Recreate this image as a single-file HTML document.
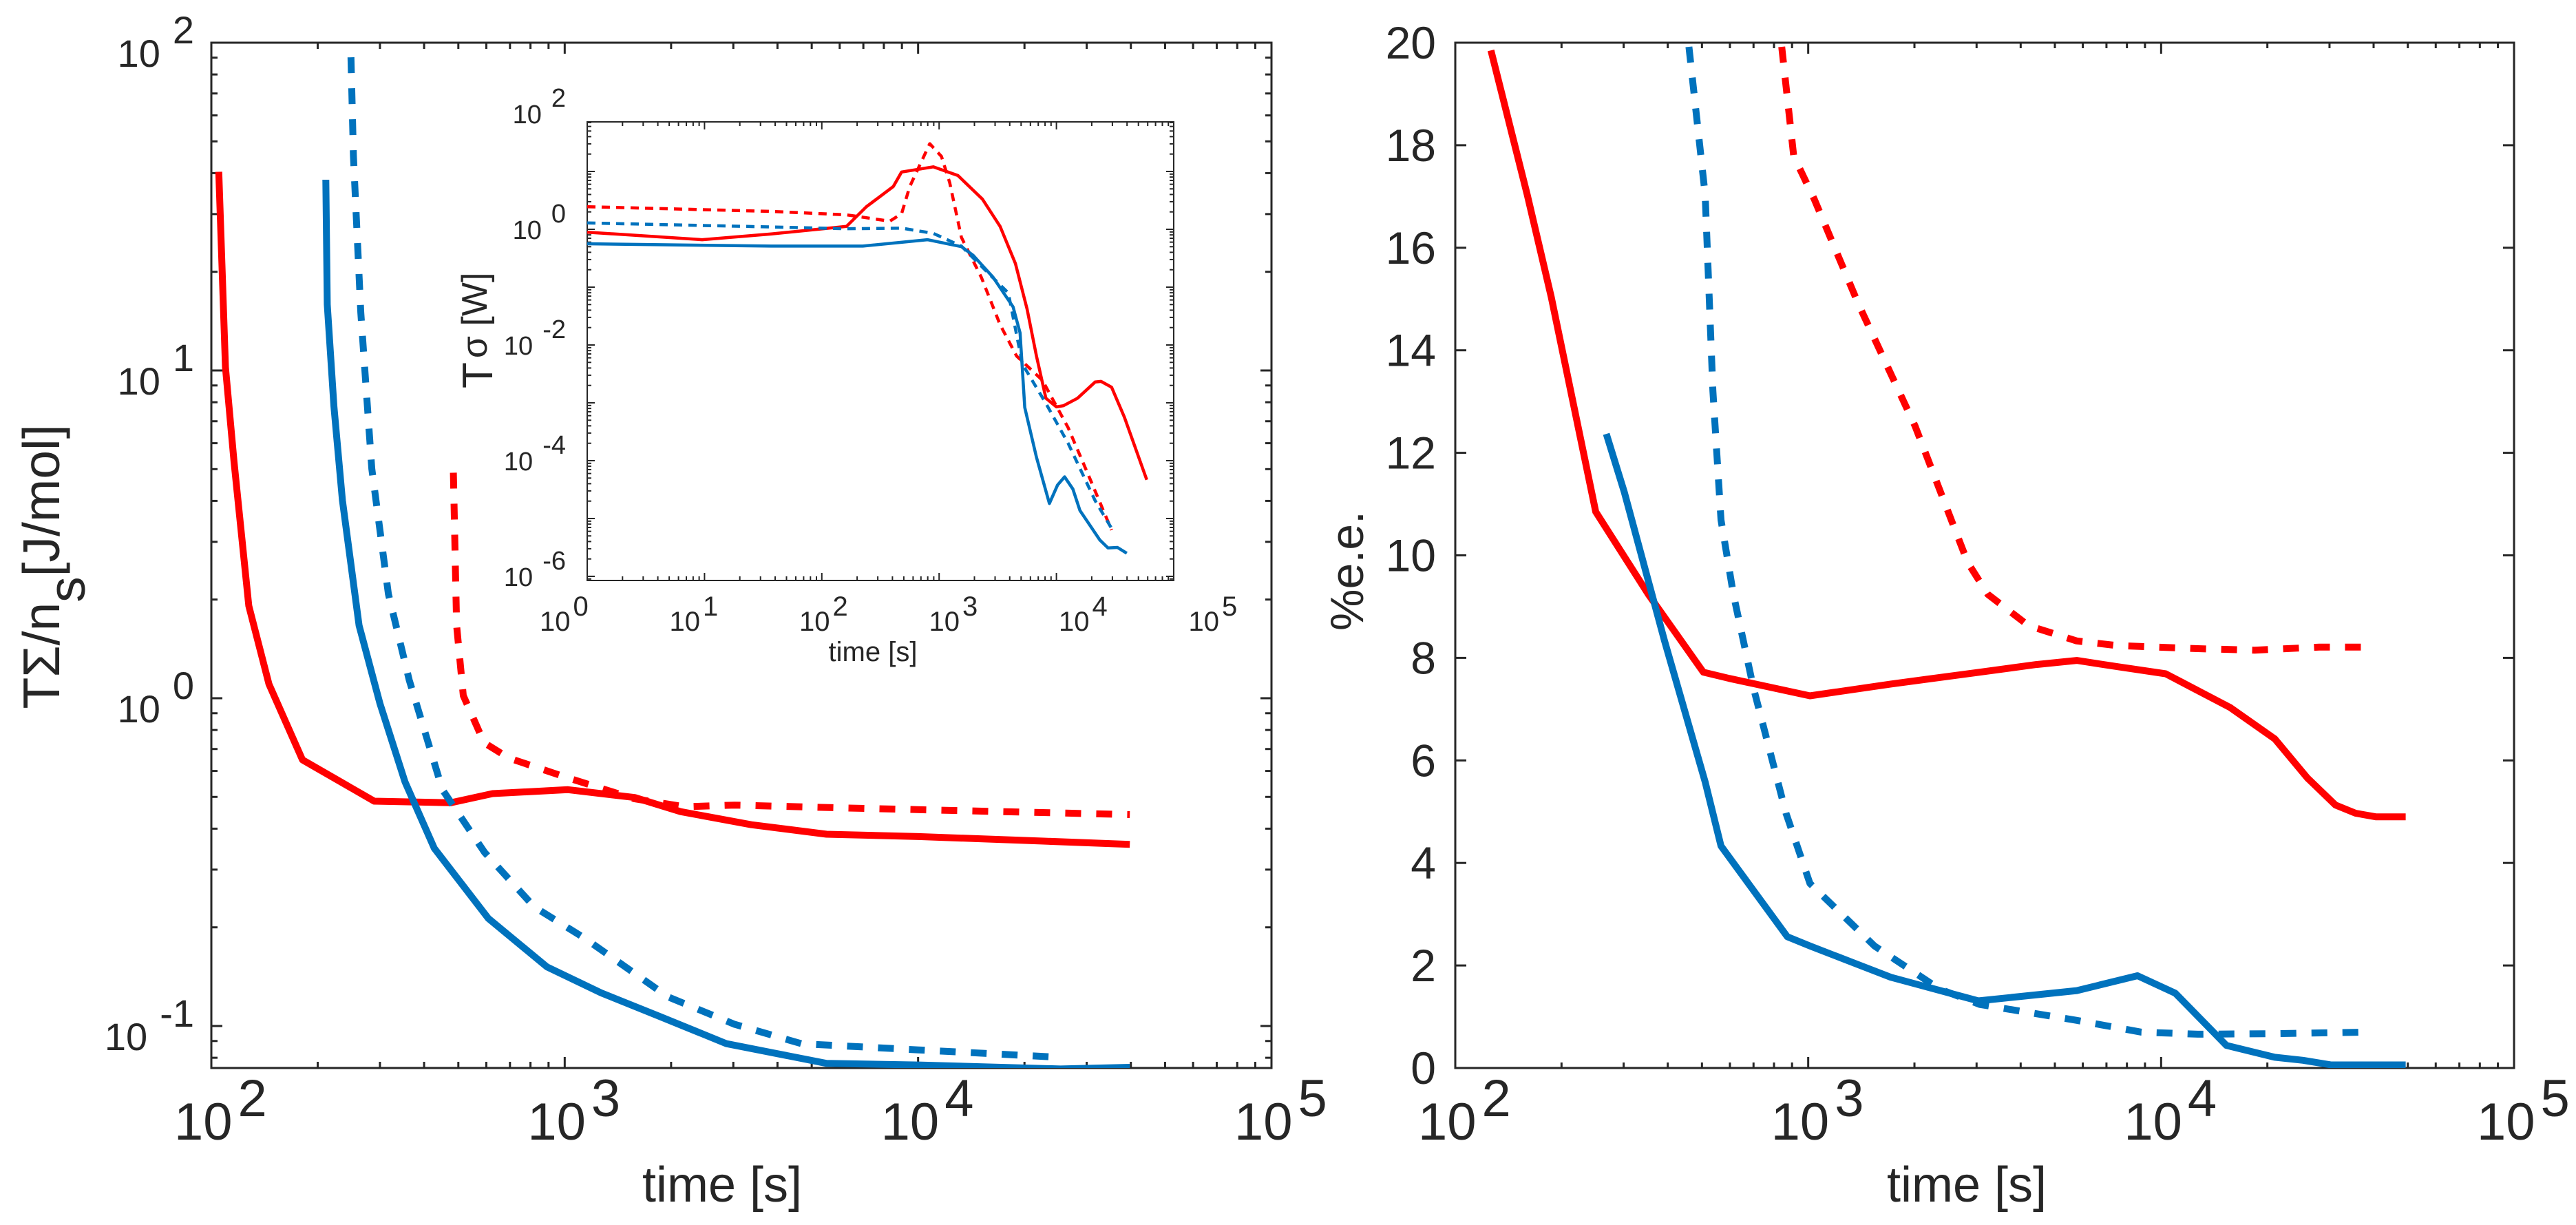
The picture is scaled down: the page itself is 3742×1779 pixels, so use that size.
<!DOCTYPE html>
<html><head><meta charset="utf-8"><style>
html,body{margin:0;padding:0;background:#fff;}
svg{display:block;font-family:"Liberation Sans",Arial,sans-serif;}
</style></head><body>
<svg id="chart" width="3742" height="1779" viewBox="0 0 3742 1779" xmlns="http://www.w3.org/2000/svg">
<defs>
<clipPath id="clipL"><rect x="307" y="62" width="1540" height="1489"/></clipPath>
<clipPath id="clipR"><rect x="2114" y="62" width="1538" height="1489"/></clipPath>
<clipPath id="clipI"><rect x="853" y="177" width="852" height="666"/></clipPath>
</defs>
<g id="left"></g>
<g id="inset"></g>
<g id="right"></g>
</svg>
<script>
// ---- Left panel data (log10 time, log10 value) ----
const leftRedSolidLogT = [2.021,2.040,2.064,2.106,2.163,2.258,2.461,2.678,2.796,3.009,3.198,3.328,3.528,3.741,4.001,4.355,4.599];
const leftRedSolidLogV = [1.606,1.010,0.723,0.282,0.043,-0.188,-0.314,-0.319,-0.291,-0.279,-0.303,-0.346,-0.386,-0.415,-0.422,-0.436,-0.446];
const leftRedDashLogT = [2.685,2.694,2.713,2.772,2.843,3.009,3.198,3.339,3.481,3.765,4.599];
const leftRedDashLogV = [0.688,0.222,0.008,-0.136,-0.183,-0.243,-0.307,-0.331,-0.326,-0.334,-0.355];
const leftBlueSolidLogT = [2.324,2.328,2.347,2.371,2.418,2.477,2.548,2.631,2.784,2.950,3.103,3.269,3.458,3.741,4.001,4.403,4.599];
const leftBlueSolidLogV = [1.582,1.201,0.890,0.604,0.222,-0.016,-0.255,-0.458,-0.672,-0.820,-0.899,-0.971,-1.054,-1.114,-1.119,-1.131,-1.126];
const leftBlueDashLogT = [2.393,2.402,2.423,2.454,2.501,2.560,2.654,2.773,2.914,3.056,3.292,3.481,3.670,4.001,4.391];
const leftBlueDashLogV = [2.05,1.654,1.177,0.700,0.318,0.055,-0.279,-0.470,-0.637,-0.732,-0.911,-0.995,-1.054,-1.073,-1.095];
const leftXTickExp = [2,3,4,5];
const leftYTickExp = [2,1,0,-1];

// ---- Inset data (log10 time, log10 value) ----
const insRedSolidLogT = [0,0.98,1.57,2.21,2.38,2.61,2.68,2.95,3.16,3.37,3.52,3.65,3.75,3.83,3.91,4.00,4.06,4.18,4.33,4.38,4.47,4.58,4.77];
const insRedSolidLogV = [-0.05,-0.18,-0.08,0.05,0.39,0.74,0.99,1.08,0.93,0.52,0.05,-0.59,-1.38,-2.19,-2.92,-3.07,-3.05,-2.92,-2.64,-2.63,-2.73,-3.25,-4.33];
const insRedDashLogT = [0,1.57,2.21,2.58,2.68,2.75,2.92,3.02,3.09,3.19,3.36,3.52,3.66,3.88,4.10,4.30,4.47];
const insRedDashLogV = [0.39,0.31,0.25,0.14,0.27,0.74,1.48,1.26,0.81,-0.14,-0.83,-1.65,-2.19,-2.61,-3.43,-4.38,-5.20];
const insBlueSolidLogT = [0,1.57,2.35,2.90,3.19,3.29,3.46,3.63,3.69,3.73,3.83,3.94,4.01,4.07,4.14,4.20,4.37,4.44,4.52,4.60];
const insBlueSolidLogV = [-0.25,-0.29,-0.29,-0.18,-0.30,-0.45,-0.83,-1.34,-1.79,-3.08,-3.94,-4.74,-4.42,-4.28,-4.49,-4.86,-5.37,-5.51,-5.50,-5.60];
const insBlueDashLogT = [0,1.57,2.21,2.68,2.95,3.19,3.42,3.59,3.71,3.91,4.10,4.33,4.47];
const insBlueDashLogV = [0.11,0.04,0.01,0.02,-0.07,-0.29,-0.76,-1.10,-2.33,-3.01,-3.70,-4.69,-5.17];
const insXTickExp = [0,1,2,3,4,5];
const insYTickExp = [2,0,-2,-4,-6];

// ---- Right panel data (log10 time, %e.e.) ----
const rightRedSolidLogT = [2.101,2.204,2.272,2.398,2.547,2.703,2.776,3.005,3.234,3.486,3.646,3.761,3.875,4.013,4.196,4.322,4.414,4.494,4.551,4.608,4.693];
const rightRedSolidV = [19.85,17.03,15.04,10.85,9.24,7.72,7.60,7.26,7.49,7.72,7.87,7.95,7.83,7.69,7.03,6.42,5.66,5.13,4.97,4.90,4.90];
const rightRedDashLogT = [2.925,2.959,3.017,3.143,3.303,3.452,3.509,3.624,3.761,3.875,4.104,4.265,4.448,4.604];
const rightRedDashV = [19.92,17.79,16.95,14.89,12.52,9.86,9.24,8.63,8.33,8.24,8.18,8.15,8.21,8.21];
const rightBlueSolidLogT = [2.428,2.479,2.593,2.708,2.753,2.941,3.005,3.234,3.482,3.761,3.933,4.040,4.127,4.185,4.322,4.402,4.482,4.562,4.693];
const rightBlueSolidV = [12.37,11.23,8.33,5.58,4.33,2.56,2.38,1.77,1.31,1.51,1.80,1.46,0.85,0.44,0.21,0.15,0.06,0.06,0.06];
const rightBlueDashLogT = [2.662,2.708,2.730,2.753,2.788,2.845,2.937,3.005,3.188,3.372,3.486,3.761,3.944,4.104,4.333,4.585];
const rightBlueDashV = [19.92,17.03,13.21,10.69,9.24,7.41,4.97,3.60,2.38,1.54,1.24,0.93,0.70,0.66,0.67,0.70];
const rightXTickExp = [2,3,4,5];
const rightYTicks = [0,2,4,6,8,10,12,14,16,18,20];

const NS = "http://www.w3.org/2000/svg";
const RED = "#ff0000", BLUE = "#0072bd", INK = "#262626";
function mk(tag, attrs, parent){ const e=document.createElementNS(NS,tag); for(const k in attrs) e.setAttribute(k,attrs[k]); parent.appendChild(e); return e; }

// axes
const L = {x0:307,x1:1847,y0:62,y1:1551};
const lx = lt => L.x0 + (lt-2)*(L.x1-L.x0)/3;
const ly = lv => L.y0 + (2-lv)*476;
const I = {x0:853,x1:1705,y0:177,y1:843};
const ix = lt => I.x0 + lt*170.4;
const iy = lv => 333 - lv*84;
const R = {x0:2114,x1:3652,y0:62,y1:1551};
const rx = lt => R.x0 + (lt-2)*(R.x1-R.x0)/3;
const ry = v => R.y1 - v*(R.y1-R.y0)/20;

function frame(g, A, sw){ const r=mk('rect',{x:A.x0,y:A.y0,width:A.x1-A.x0,height:A.y1-A.y0,fill:'none',stroke:INK,'stroke-width':sw},g);
    }
function tick(g,x1,y1,x2,y2,sw){ mk('line',{x1:x1,y1:y1,x2:x2,y2:y2,stroke:INK,'stroke-width':sw},g); }
function series(g, xs, ys, fx, fy, color, w, dash, clip, name){
  const pts = xs.map((t,i)=>fx(t).toFixed(1)+','+fy(ys[i]).toFixed(1)).join(' ');
  const p = mk('polyline',{points:pts,fill:'none',stroke:color,'stroke-width':w,'stroke-linejoin':'round','clip-path':'url(#'+clip+')'},g);
  if(dash) p.setAttribute('stroke-dasharray',dash);
  
  
}
function powLabel(g, x, y, base, exp, fs, supFs, dx, dy, anchor, name){
  const t = mk('text',{x:x,y:y,'font-size':fs,fill:INK,'text-anchor':anchor},g);
  t.appendChild(document.createTextNode(base));
  const s = mk('tspan',{dx:dx,dy:dy,'font-size':supFs},t);
  s.textContent = exp;
  
  
}

// ---------- LEFT ----------
const gL = document.getElementById('left');
frame(gL, L, 3);
for(let d=2; d<5; d++){
  for(let m=2;m<=9;m++){ const x=lx(d+Math.log10(m)); tick(gL,x,L.y1,x,L.y1-9,3); tick(gL,x,L.y0,x,L.y0+9,3); }
}
leftXTickExp.forEach(e=>{ const x=lx(e); tick(gL,x,L.y1,x,L.y1-16,3); tick(gL,x,L.y0,x,L.y0+16,3);
  powLabel(gL, x-54, 1655, '10', String(e), 76, 76, 8, -34, 'start', 'x-tick-label'); });
for(let d=-2; d<2; d++){
  for(let m=2;m<=9;m++){ const lv=d+Math.log10(m); if(lv< -1.128) continue; const y=ly(lv); tick(gL,L.x0,y,L.x0+9,y,3); tick(gL,L.x1,y,L.x1-9,y,3); }
}
leftYTickExp.forEach(e=>{ const y=ly(e); tick(gL,L.x0,y,L.x0+16,y,3); tick(gL,L.x1,y,L.x1-16,y,3);
  powLabel(gL, 282, y+35, '10', String(e), 56, 56, 18, -34, 'end', 'y-tick-label'); });
series(gL, leftRedSolidLogT, leftRedSolidLogV, lx, ly, RED, 10, null, 'clipL', 'red-solid-line');
series(gL, leftRedDashLogT, leftRedDashLogV, lx, ly, RED, 10, '23 22', 'clipL', 'red-dashed-line');
series(gL, leftBlueSolidLogT, leftBlueSolidLogV, lx, ly, BLUE, 10, null, 'clipL', 'blue-solid-line');
series(gL, leftBlueDashLogT, leftBlueDashLogV, lx, ly, BLUE, 10, '23 22', 'clipL', 'blue-dashed-line');
(function(){
  const t = mk('text',{x:1049,y:1745,'font-size':72,fill:INK,'text-anchor':'middle'},gL); t.textContent='time [s]';
   
  const yt = mk('text',{x:0,y:0,'font-size':75,fill:INK,'text-anchor':'middle',transform:'translate(86,823) rotate(-90)'},gL);
  yt.appendChild(document.createTextNode('TΣ/n'));
  const s = mk('tspan',{dy:37},yt); s.textContent='s';
  const r = mk('tspan',{dy:-37},yt); r.textContent='[J/mol]';
   
})();

// ---------- INSET ----------
const gI = document.getElementById('inset');
mk('rect',{x:I.x0,y:I.y0,width:I.x1-I.x0,height:I.y1-I.y0,fill:'#fff'},gI);
frame(gI, I, 2);
for(let d=0; d<5; d++){
  for(let m=2;m<=9;m++){ const x=ix(d+Math.log10(m)); tick(gI,x,I.y1,x,I.y1-6,2); tick(gI,x,I.y0,x,I.y0+6,2); }
  const x=ix(d); tick(gI,x,I.y1,x,I.y1-11,2); tick(gI,x,I.y0,x,I.y0+11,2);
}
for(let d=-7; d<2; d++){
  for(let m=1;m<=9;m++){ const y=iy(d+Math.log10(m)); if(y<I.y0||y>I.y1) continue; const l=m===1?11:6; tick(gI,I.x0,y,I.x0+l,y,2); tick(gI,I.x1,y,I.x1-l,y,2); }
}
insXTickExp.forEach((e,i)=>{ const x=812+i*188.5;
  powLabel(gI, x-28, 916, '10', String(e), 40, 40, 4, -22, 'start', 'inset-x-tick-label'); });
insYTickExp.forEach(e=>{ const y=iy(e);
  powLabel(gI, 822, y+14, '10', String(e), 38, 38, 14, -24, 'end', 'inset-y-tick-label'); });
series(gI, insRedSolidLogT, insRedSolidLogV, ix, iy, RED, 4.5, null, 'clipI', 'inset-red-solid-line');
series(gI, insRedDashLogT, insRedDashLogV, ix, iy, RED, 4.5, '12 9', 'clipI', 'inset-red-dashed-line');
series(gI, insBlueSolidLogT, insBlueSolidLogV, ix, iy, BLUE, 4.5, null, 'clipI', 'inset-blue-solid-line');
series(gI, insBlueDashLogT, insBlueDashLogV, ix, iy, BLUE, 4.5, '12 9', 'clipI', 'inset-blue-dashed-line');
(function(){
  const t = mk('text',{x:1268,y:960,'font-size':40,fill:INK,'text-anchor':'middle'},gI); t.textContent='time [s]';
   
  const yt = mk('text',{x:0,y:0,'font-size':62,fill:INK,'text-anchor':'start',transform:'translate(715,564) rotate(-90)'},gI);
  yt.appendChild(document.createTextNode('T'));
  const s = mk('tspan',{'font-size':52,dx:6,dy:-8},yt); s.textContent='σ [W]';
   
})();

// ---------- RIGHT ----------
const gR = document.getElementById('right');
frame(gR, R, 3);
for(let d=2; d<5; d++){
  for(let m=2;m<=9;m++){ const x=rx(d+Math.log10(m)); tick(gR,x,R.y1,x,R.y1-8,3); tick(gR,x,R.y0,x,R.y0+8,3); }
}
rightXTickExp.forEach(e=>{ const x=rx(e); tick(gR,x,R.y1,x,R.y1-16,3); tick(gR,x,R.y0,x,R.y0+16,3);
  powLabel(gR, x-54, 1655, '10', String(e), 76, 76, 8, -34, 'start', 'x-tick-label'); });
rightYTicks.forEach(v=>{ const y=ry(v); tick(gR,R.x0,y,R.x0+16,y,3); tick(gR,R.x1,y,R.x1-16,y,3);
  const t=mk('text',{x:2086,y:y+23,'font-size':66,fill:INK,'text-anchor':'end'},gR); t.textContent=String(v);
    });
series(gR, rightRedSolidLogT, rightRedSolidV, rx, ry, RED, 10, null, 'clipR', 'red-solid-line');
series(gR, rightRedDashLogT, rightRedDashV, rx, ry, RED, 10, '23 22', 'clipR', 'red-dashed-line');
series(gR, rightBlueSolidLogT, rightBlueSolidV, rx, ry, BLUE, 10, null, 'clipR', 'blue-solid-line');
series(gR, rightBlueDashLogT, rightBlueDashV, rx, ry, BLUE, 10, '23 22', 'clipR', 'blue-dashed-line');
(function(){
  const t = mk('text',{x:2857,y:1745,'font-size':72,fill:INK,'text-anchor':'middle'},gR); t.textContent='time [s]';
   
  const yt = mk('text',{x:0,y:0,'font-size':68,fill:INK,'text-anchor':'middle',transform:'translate(1980,829) rotate(-90)'},gR);
  yt.textContent='%e.e.';
   
})();
</script>
</body></html>
